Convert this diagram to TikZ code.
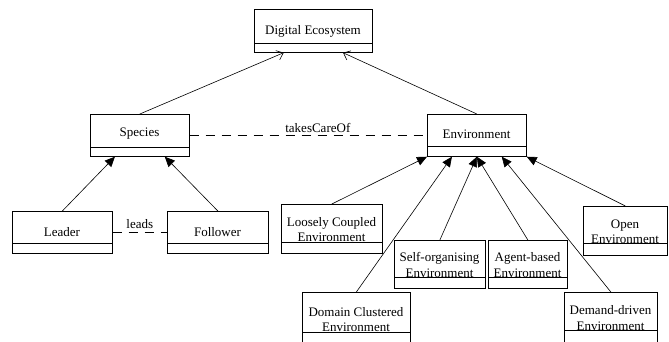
\documentclass[tikz,border=0pt]{standalone}
\usepackage{fontspec}
\setmainfont{Liberation Serif}
\usetikzlibrary{arrows.meta,calc}
\tikzset{
  box/.style={draw, fill=white, line width=0.7pt, inner sep=0pt, anchor=north west},
  shadowbox/.style={fill=black!45},
  divider/.style={line width=0.7pt},
  lbl/.style={font=\fontsize{13}{15.5}\selectfont, align=center, inner sep=0pt},
  conn/.style={line width=0.6pt},
  gen/.style={conn, -{Triangle[length=10pt,width=9pt]}},
  agg/.style={conn, -{Straight Barb[length=6pt,width=10pt]}},
  assoc/.style={conn, dash pattern=on 9pt off 7pt},
  asslbl/.style={font=\fontsize{13}{15.5}\selectfont, inner sep=0pt},
}
\newcommand{\umlbox}[8]{%
  \fill[shadowbox] (#2+1.2,#3+1.2) rectangle (#4+1.2,#6+1.2);
  \node[box, minimum width={#4-#2}, minimum height={#6-#3}] (#1) at (#2,#3) {};
  \draw[divider] (#2,#5) -- (#4,#5);
  \node[lbl] (#1-label) at ({(#2+#4)/2},#7) {#8};
}
\begin{document}
\begin{tikzpicture}[x=1pt,y=-1pt]
\useasboundingbox (0,0) rectangle (669,341);
\clip (0,0) rectangle (669,341);
\fill[white] (0,0) rectangle (669,341);

\umlbox{de}{254}{9}{372}{43}{52}{31}{Digital Ecosystem}
\umlbox{species}{90}{114}{189}{147}{156}{134}{Species}
\umlbox{env}{427}{114}{526}{146}{156}{134}{Environment}
\umlbox{leader}{12}{211}{112}{243}{253}{232}{Leader}
\umlbox{follower}{167}{211}{268}{243}{253}{232}{Follower}
\umlbox{loose}{281}{204}{382}{242}{253}{229.5}{Loosely Coupled\\Environment}
\umlbox{self}{394}{240}{485}{277}{288}{265}{Self-organising\\Environment}
\umlbox{agent}{488}{240}{567}{277}{288}{265}{Agent-based\\Environment}
\umlbox{domain}{302}{292}{410}{332}{350}{319.5}{Domain Clustered\\Environment}
\umlbox{demand}{564}{292}{657}{330}{350}{318}{Demand-driven\\Environment}
\umlbox{open}{583}{206}{667}{243}{255}{232}{Open\\Environment}

% inheritance to Digital Ecosystem
\draw[agg] (species.north) -- ($(de.south west)!0.25!(de.south east)$);
\draw[agg] (env.north) -- ($(de.south west)!0.75!(de.south east)$);

% associations
\draw[assoc] (species.east) -- (env.west)
  node[asslbl, pos=0.54, yshift=7pt] (tco) {takesCareOf};
\draw[assoc] (leader.east) -- (follower.west)
  node[asslbl, pos=0.5, yshift=8.5pt] (leads) {leads};

% specialisations
\draw[gen] (leader.north) -- ($(species.south west)!0.25!(species.south east)$);
\draw[gen] (follower.north) -- ($(species.south west)!0.75!(species.south east)$);
\draw[gen] (loose.north) -- (env.south west);
\draw[gen] (domain.north) -- ($(env.south west)!0.25!(env.south east)$);
\draw[gen] (self.north) -- (env.south);
\draw[gen] (agent.north) -- (env.south);
\draw[gen] (demand.north) -- ($(env.south west)!0.75!(env.south east)$);
\draw[gen] (open.north) -- (env.south east);
\end{tikzpicture}
\end{document}
